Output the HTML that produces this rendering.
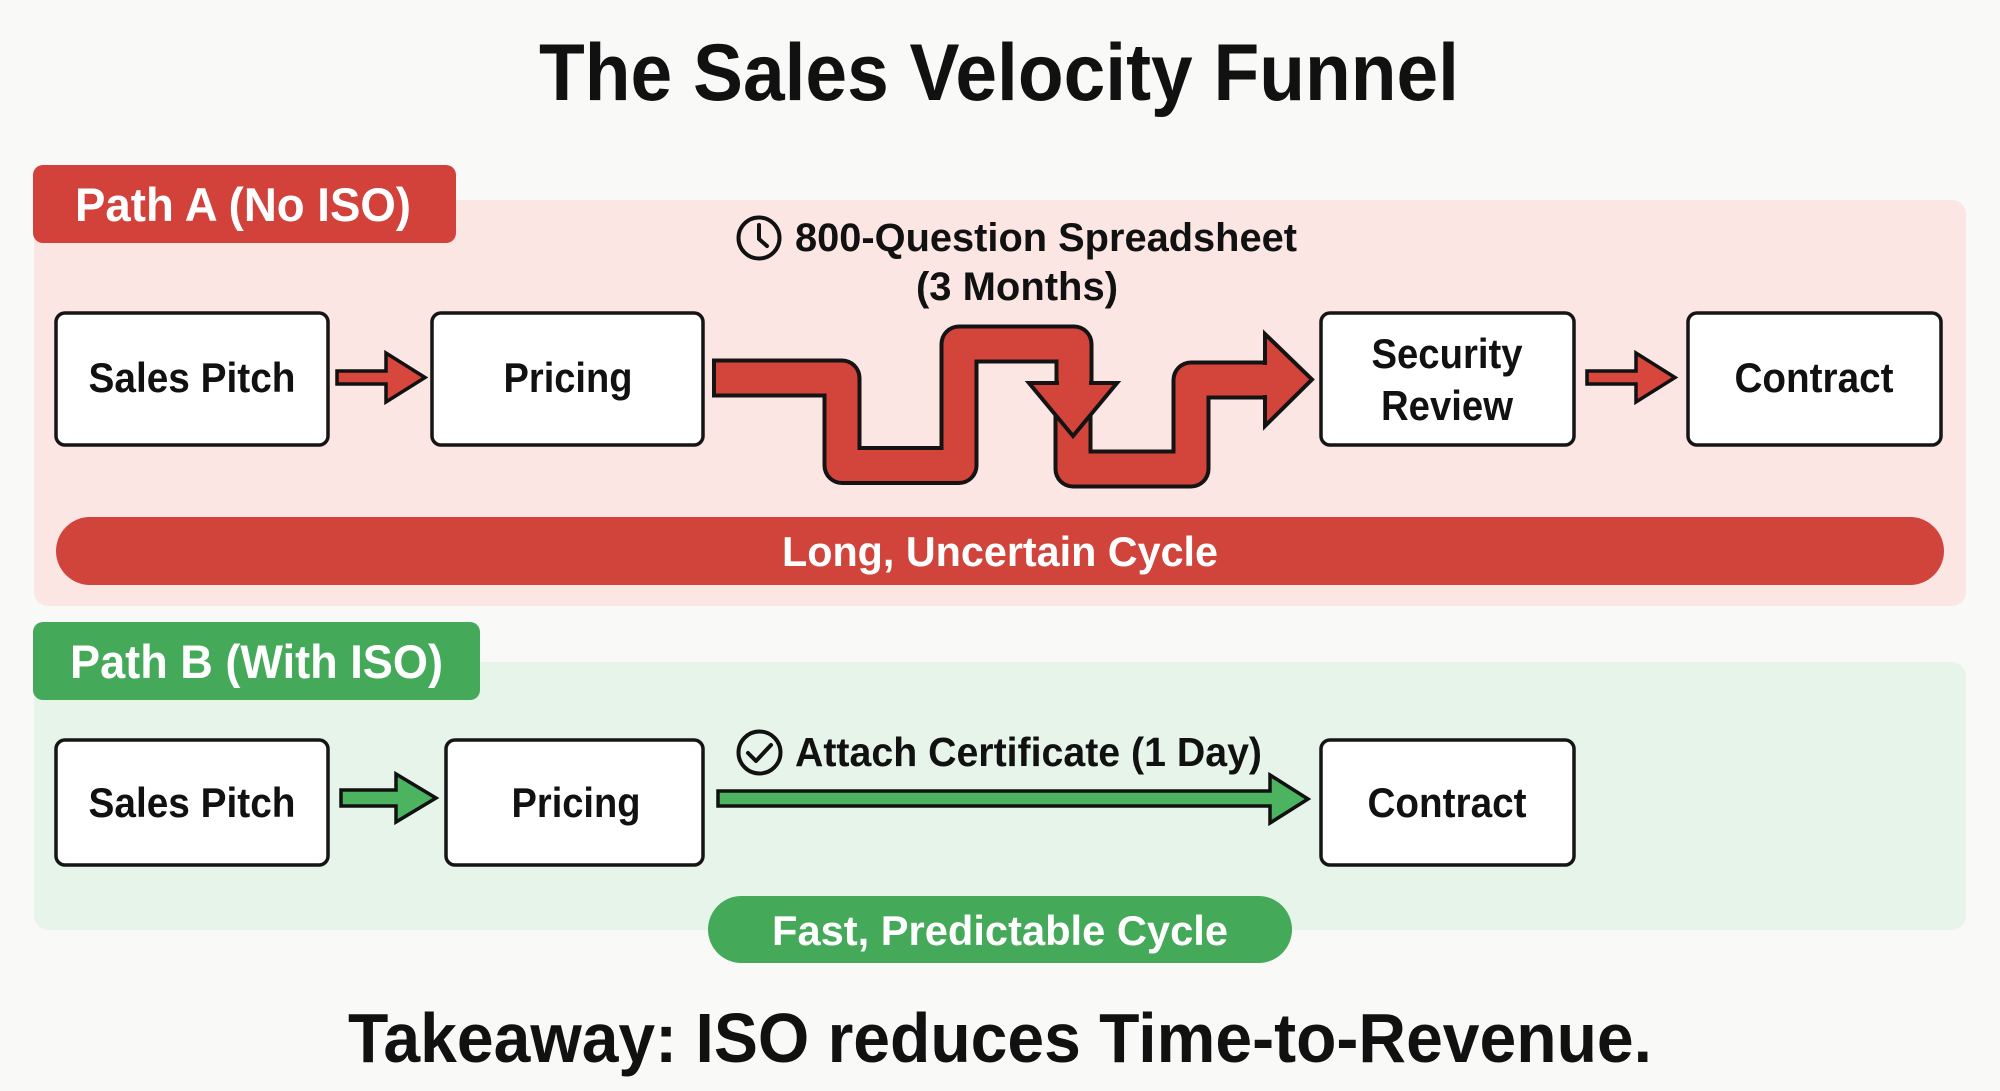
<!DOCTYPE html>
<html>
<head>
<meta charset="utf-8">
<style>
  html, body { margin: 0; padding: 0; background: #f9f9f7; }
  svg { display: block; }
  text { font-family: "Liberation Sans", Arial, sans-serif; font-weight: bold; }
</style>
</head>
<body>
<svg xmlns="http://www.w3.org/2000/svg" width="2000" height="1091" viewBox="0 0 2000 1091">
  <rect x="0" y="0" width="2000" height="1091" fill="#f9f9f7"/>

  <!-- Title -->
  <text x="999" y="100" font-size="81" text-anchor="middle" textLength="920" lengthAdjust="spacingAndGlyphs" fill="#111">The Sales Velocity Funnel</text>

  <!-- ================= PATH A ================= -->
  <rect x="34" y="200" width="1932" height="406" rx="14" fill="#fbe6e4"/>
  <rect x="33" y="165" width="423" height="78" rx="10" fill="#d3423a"/>
  <text x="243" y="221" font-size="47" text-anchor="middle" textLength="336" lengthAdjust="spacingAndGlyphs" fill="#ffffff">Path A (No ISO)</text>

  <!-- annotation -->
  <circle cx="759" cy="238" r="20.5" fill="none" stroke="#111" stroke-width="4"/>
  <polyline points="759,225 759,239 767,246" fill="none" stroke="#111" stroke-width="4" stroke-linecap="round" stroke-linejoin="round"/>
  <text x="795" y="251" font-size="40" textLength="502" lengthAdjust="spacingAndGlyphs" fill="#111">800-Question Spreadsheet</text>
  <text x="1017" y="300" font-size="40" text-anchor="middle" textLength="202" lengthAdjust="spacingAndGlyphs" fill="#111">(3 Months)</text>

  <!-- boxes A -->
  <rect x="56" y="313" width="272" height="132" rx="9" fill="#ffffff" stroke="#151515" stroke-width="3.5"/>
  <text x="192" y="392" font-size="42" text-anchor="middle" textLength="207" lengthAdjust="spacingAndGlyphs" fill="#111">Sales Pitch</text>

  <rect x="432" y="313" width="271" height="132" rx="9" fill="#ffffff" stroke="#151515" stroke-width="3.5"/>
  <text x="568" y="392" font-size="42" text-anchor="middle" textLength="129" lengthAdjust="spacingAndGlyphs" fill="#111">Pricing</text>

  <rect x="1321" y="313" width="253" height="132" rx="9" fill="#ffffff" stroke="#151515" stroke-width="3.5"/>
  <text x="1447" y="368" font-size="42" text-anchor="middle" textLength="151" lengthAdjust="spacingAndGlyphs" fill="#111">Security</text>
  <text x="1447" y="420" font-size="42" text-anchor="middle" textLength="132" lengthAdjust="spacingAndGlyphs" fill="#111">Review</text>

  <rect x="1688" y="313" width="253" height="132" rx="9" fill="#ffffff" stroke="#151515" stroke-width="3.5"/>
  <text x="1814" y="392" font-size="42" text-anchor="middle" textLength="159" lengthAdjust="spacingAndGlyphs" fill="#111">Contract</text>

  <!-- small red arrows -->
  <polygon points="337,371 386,371 386,353 425,377.5 386,402 386,384 337,384" fill="#d8473d" stroke="#111" stroke-width="3.5" stroke-linejoin="miter"/>
  <polygon points="1587,371 1636,371 1636,353 1675,377.5 1636,402 1636,384 1587,384" fill="#d8473d" stroke="#111" stroke-width="3.5" stroke-linejoin="miter"/>

  <!-- winding arrow: piece 2 (lower, drawn first) -->
  <path d="M1073 392 V469 H1191 V380 H1268" fill="none" stroke="#141414" stroke-width="39" stroke-linejoin="round"/>
  <path d="M1073 392 V469 H1191 V380 H1270" fill="none" stroke="#d3443a" stroke-width="31" stroke-linejoin="round"/>
  <polygon points="1265,334 1312,379.5 1265,426" fill="#d3443a" stroke="#141414" stroke-width="4" stroke-linejoin="miter"/>
  <rect x="1255" y="365" width="12" height="30" fill="#d3443a"/>

  <!-- winding arrow: piece 1 -->
  <path d="M712 378 H842 V465.5 H959 V344 H1074 V386" fill="none" stroke="#141414" stroke-width="39" stroke-linejoin="round"/>
  <path d="M716 378 H842 V465.5 H959 V344 H1074 V388" fill="none" stroke="#d3443a" stroke-width="31" stroke-linejoin="round"/>
  <polygon points="1029,383 1117,383 1073,436" fill="#d3443a" stroke="#141414" stroke-width="4" stroke-linejoin="miter"/>
  <rect x="1059" y="374" width="30" height="12" fill="#d3443a"/>

  <!-- red bar -->
  <rect x="56" y="517" width="1888" height="68" rx="34" fill="#d1443b"/>
  <text x="1000" y="566" font-size="42" text-anchor="middle" textLength="436" lengthAdjust="spacingAndGlyphs" fill="#ffffff">Long, Uncertain Cycle</text>

  <!-- ================= PATH B ================= -->
  <rect x="34" y="662" width="1932" height="268" rx="14" fill="#e6f4e9"/>
  <rect x="33" y="622" width="447" height="78" rx="10" fill="#44aa59"/>
  <text x="256.5" y="678" font-size="47" text-anchor="middle" textLength="373" lengthAdjust="spacingAndGlyphs" fill="#ffffff">Path B (With ISO)</text>

  <!-- boxes B -->
  <rect x="56" y="740" width="272" height="125" rx="9" fill="#ffffff" stroke="#151515" stroke-width="3.5"/>
  <text x="192" y="817" font-size="42" text-anchor="middle" textLength="207" lengthAdjust="spacingAndGlyphs" fill="#111">Sales Pitch</text>

  <rect x="446" y="740" width="257" height="125" rx="9" fill="#ffffff" stroke="#151515" stroke-width="3.5"/>
  <text x="576" y="817" font-size="42" text-anchor="middle" textLength="129" lengthAdjust="spacingAndGlyphs" fill="#111">Pricing</text>

  <rect x="1321" y="740" width="253" height="125" rx="9" fill="#ffffff" stroke="#151515" stroke-width="3.5"/>
  <text x="1447" y="817" font-size="42" text-anchor="middle" textLength="159" lengthAdjust="spacingAndGlyphs" fill="#111">Contract</text>

  <!-- small green arrow -->
  <polygon points="341,790 396,790 396,774 436,798 396,822 396,806 341,806" fill="#4cb460" stroke="#111" stroke-width="3.5" stroke-linejoin="miter"/>

  <!-- long green arrow -->
  <polygon points="718,791 1270,791 1270,775 1308,799 1270,823 1270,806 718,806" fill="#4cb460" stroke="#111" stroke-width="3.5" stroke-linejoin="miter"/>

  <!-- annotation B -->
  <circle cx="759.5" cy="752.5" r="21" fill="none" stroke="#111" stroke-width="4"/>
  <polyline points="748,753 756,761 771,745" fill="none" stroke="#111" stroke-width="4" stroke-linecap="round" stroke-linejoin="round"/>
  <text x="795" y="766" font-size="41" textLength="467" lengthAdjust="spacingAndGlyphs" fill="#111">Attach Certificate (1 Day)</text>

  <!-- green pill -->
  <rect x="708" y="896" width="584" height="67" rx="33.5" fill="#44aa59"/>
  <text x="1000" y="945" font-size="42" text-anchor="middle" textLength="456" lengthAdjust="spacingAndGlyphs" fill="#ffffff">Fast, Predictable Cycle</text>

  <!-- Takeaway -->
  <text x="1000" y="1062" font-size="70" text-anchor="middle" textLength="1304" lengthAdjust="spacingAndGlyphs" fill="#111">Takeaway: ISO reduces Time-to-Revenue.</text>
</svg>
</body>
</html>
